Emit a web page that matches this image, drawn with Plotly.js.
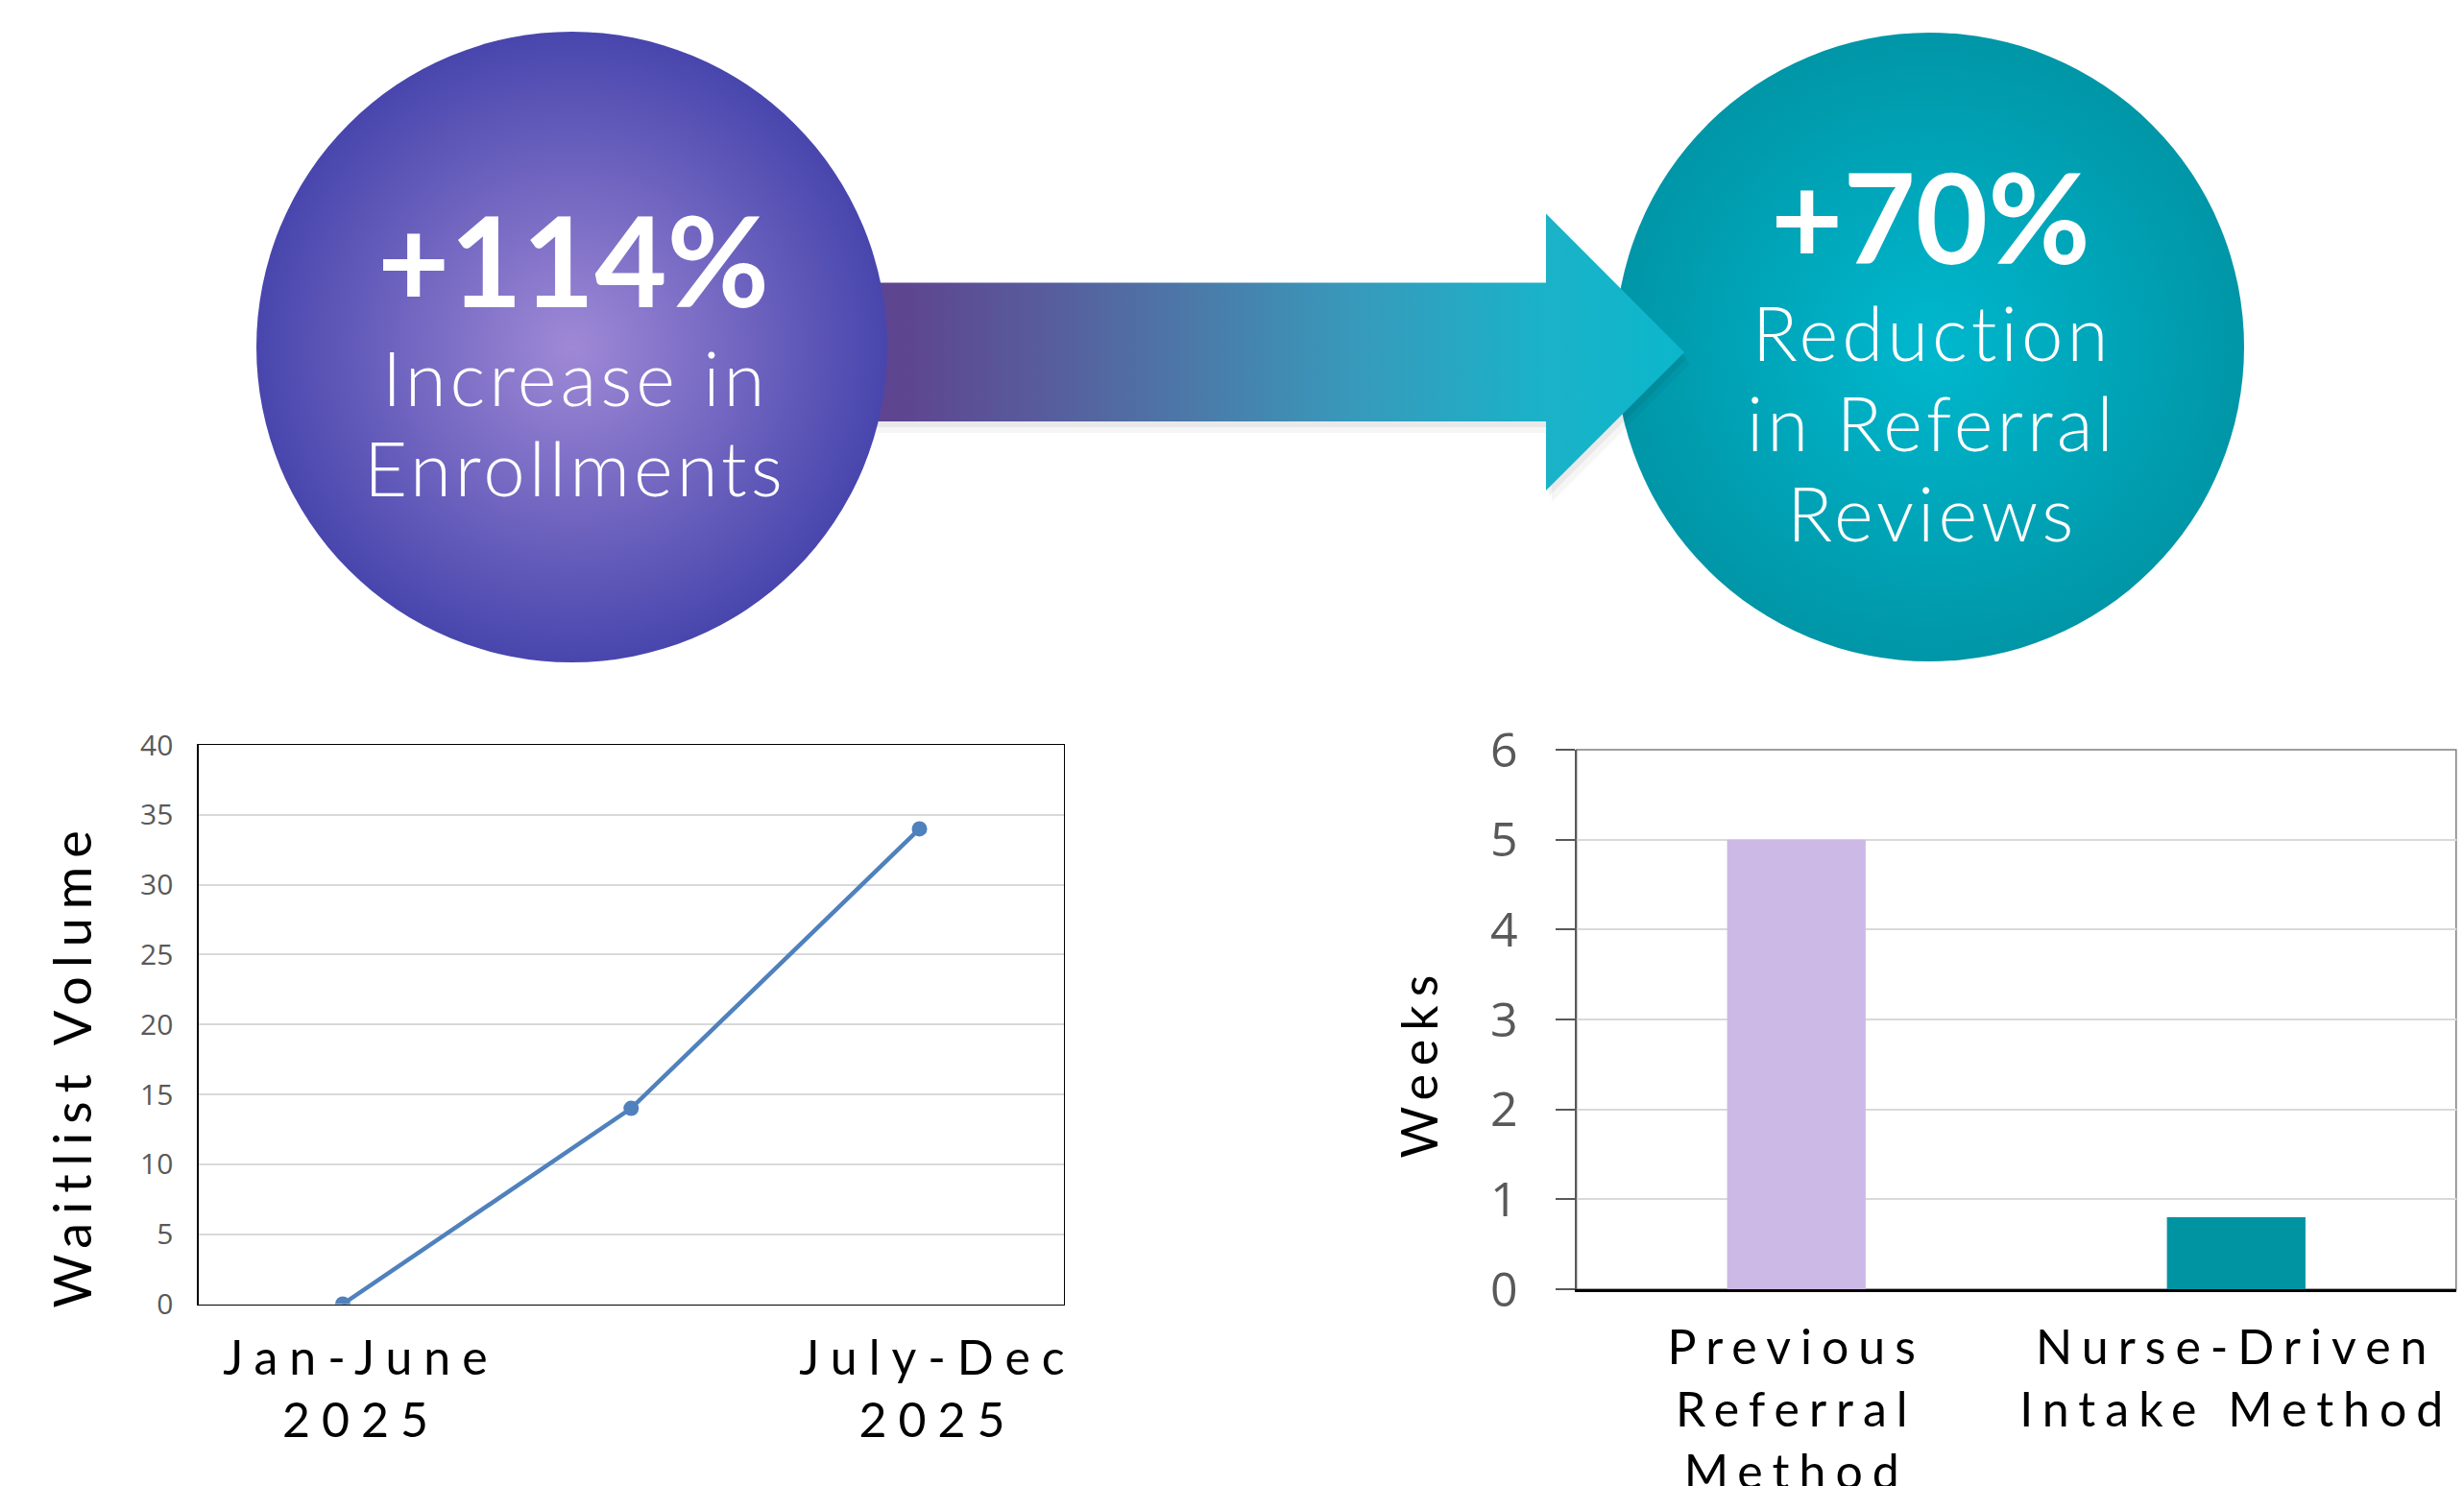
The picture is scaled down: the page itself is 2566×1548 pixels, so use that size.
<!DOCTYPE html>
<html>
<head>
<meta charset="utf-8">
<script src="https://cdn.plot.ly/plotly-3.0.1.min.js"></script>
<style>
  html, body { margin: 0; padding: 0; background: #ffffff; }
  #chart { width: 2566px; height: 1548px; }
  g.xtick text { letter-spacing: 12px; translate: 19px 0; }
  g.x2tick text { letter-spacing: 10px; }
  g.annotation[data-index="0"] text, g.annotation[data-index="1"] text { letter-spacing: 9px; }
  g.annotation[data-index="4"] text, g.annotation[data-index="5"] text, g.annotation[data-index="6"] text,
  g.annotation[data-index="7"] text, g.annotation[data-index="8"] text { letter-spacing: 4px; }
</style>
</head>
<body>
<div id="chart"></div>
<script>
// ---------- Data ----------
// Waitlist volume line chart
const waitlistPeriods = ['Jan-June<br>2025', '', 'July-Dec<br>2025'];
const waitlistIndex = [0, 1, 2];
const waitlistVolume = [0, 14, 34];

// Referral review time bar chart
const methodLabels = ['Previous<br>Referral<br>Method', 'Nurse-Driven<br>Intake Method'];
const weeksToReview = [5, 0.8];

// Headline statistics
const statValues = ['+114%', '+70%'];
const statCaptions = ['Increase in<br>Enrollments', 'Reduction<br>in Referral<br>Reviews'];

// Axis titles
const lineYTitle = 'Waitlist Volume';
const barYTitle = 'Weeks';

// ---------- Styling / geometry (pixel space of the infographic overlay) ----------
const W = 2566, H = 1548, TOP_H = 774;
const geom = {
  circle1: { cx: 595.5, cy: 361.5, d: 657 },
  circle2: { cx: 2009.5, cy: 361.5, d: 655 },
  body: { x0: 880, x1: 1612, y0: 294.5, y1: 439 },
  head: { x0: 1610, tip: 1754, y0: 222.5, y1: 511, yc: 367 },
  stat1: { x: 597, y: 270, lines: [393, 487] },
  stat2: { x: 2010, y: 225, lines: [346, 440, 534] }
};
const barColors = ['#CCB9E5', '#0094A3'];
const lineColor = '#4F81BD';
const tickGrey = '#595959';

const px = v => v / W;
const py = v => 1 - v / H;

const labelled = waitlistIndex.filter((_, i) => waitlistPeriods[i] !== '');
const labelledText = waitlistPeriods.filter(t => t !== '');

const b = geom.body, h = geom.head;
function arrowOutline(dx, dy) {
  return {
    x: [b.x0, h.x0, h.x0, h.tip, h.x0, h.x0, b.x0, b.x0].map(v => v + dx),
    y: [b.y0, b.y0, h.y0, h.yc, h.y1, b.y1, b.y1, b.y0].map(v => v + dy)
  };
}
const sh1 = arrowOutline(3, 6), sh2 = arrowOutline(6, 12);

const traces = [
  // Waitlist line
  {
    type: 'scatter', mode: 'lines+markers', xaxis: 'x', yaxis: 'y',
    x: waitlistIndex, y: waitlistVolume,
    line: { color: lineColor, width: 4.5 },
    marker: { color: lineColor, size: 16 },
    hoverinfo: 'skip', showlegend: false
  },
  // Weeks bars
  {
    type: 'bar', xaxis: 'x2', yaxis: 'y2',
    x: methodLabels, y: weeksToReview,
    width: 0.315,
    marker: { color: barColors, line: { width: 0 } },
    hoverinfo: 'skip', showlegend: false
  },
  // Right circle (teal): marker colour = rim, gradient colour = centre
  {
    type: 'scatter', mode: 'markers', xaxis: 'x3', yaxis: 'y3',
    x: [geom.circle2.cx], y: [geom.circle2.cy],
    marker: { size: geom.circle2.d, color: '#0096A7', gradient: { type: 'radial', color: '#00B8CE' }, line: { width: 0 } },
    hoverinfo: 'skip', showlegend: false
  },
  // Arrow shadows
  {
    type: 'scatter', mode: 'none', xaxis: 'x3', yaxis: 'y3', x: sh2.x, y: sh2.y,
    fill: 'toself', fillcolor: 'rgba(0,0,0,0.035)', hoverinfo: 'skip', showlegend: false
  },
  {
    type: 'scatter', mode: 'none', xaxis: 'x3', yaxis: 'y3', x: sh1.x, y: sh1.y,
    fill: 'toself', fillcolor: 'rgba(0,0,0,0.05)', hoverinfo: 'skip', showlegend: false
  },
  // Arrow body (gradient)
  {
    type: 'scatter', mode: 'none', xaxis: 'x3', yaxis: 'y3',
    x: [b.x0, b.x1, b.x1, b.x0, b.x0], y: [b.y0, b.y0, b.y1, b.y1, b.y0],
    fill: 'toself',
    fillgradient: {
      type: 'horizontal',
      colorscale: [[0, '#5E4391'], [0.08, '#5E4590'], [0.3, '#575E9E'], [0.5, '#4B7AA8'], [0.72, '#3899BB'], [1, '#19B3C9']]
    },
    hoverinfo: 'skip', showlegend: false
  },
  // Arrow head
  {
    type: 'scatter', mode: 'none', xaxis: 'x3', yaxis: 'y3',
    x: [h.x0, h.tip, h.x0, h.x0], y: [h.y0, h.yc, h.y1, h.y0],
    fill: 'toself',
    fillgradient: { type: 'horizontal', colorscale: [[0, '#1BB2C8'], [1, '#0BB7CC']] },
    hoverinfo: 'skip', showlegend: false
  },
  // Left circle (purple)
  {
    type: 'scatter', mode: 'markers', xaxis: 'x3', yaxis: 'y3',
    x: [geom.circle1.cx], y: [geom.circle1.cy],
    marker: { size: geom.circle1.d, color: '#4846AD', gradient: { type: 'radial', color: '#9F89D6' }, line: { width: 0 } },
    hoverinfo: 'skip', showlegend: false
  }
];

const annotations = [
  { text: lineYTitle, xref: 'paper', yref: 'paper', x: px(74), y: py(1110), xanchor: 'center', yanchor: 'middle',
    textangle: -90, showarrow: false, font: { family: 'Lato', size: 54, color: '#000000' } },
  { text: barYTitle, xref: 'paper', yref: 'paper', x: px(1477), y: py(1107), xanchor: 'center', yanchor: 'middle',
    textangle: -90, showarrow: false, font: { family: 'Lato', size: 52, color: '#000000' } },
  { text: '<b>' + statValues[0] + '</b>', xref: 'x3', yref: 'y3', x: geom.stat1.x, y: geom.stat1.y, xanchor: 'center', yanchor: 'middle',
    showarrow: false, font: { family: 'Lato', size: 130, color: '#ffffff' } },
  { text: '<b>' + statValues[1] + '</b>', xref: 'x3', yref: 'y3', x: geom.stat2.x, y: geom.stat2.y, xanchor: 'center', yanchor: 'middle',
    showarrow: false, font: { family: 'Lato', size: 130, color: '#ffffff' } }
];
[[statCaptions[0], geom.stat1], [statCaptions[1], geom.stat2]].forEach(([cap, g]) => {
  cap.split('<br>').forEach((line, i) => {
    annotations.push({ text: line, xref: 'x3', yref: 'y3', x: g.x + 2, y: g.lines[i], xanchor: 'center', yanchor: 'middle',
      showarrow: false, font: { family: 'Lato', size: 78, weight: 300, color: '#ffffff' } });
  });
});

const layout = {
  width: W, height: H,
  margin: { l: 0, r: 0, t: 0, b: 0, pad: 0 },
  paper_bgcolor: '#ffffff', plot_bgcolor: 'rgba(0,0,0,0)',
  showlegend: false,
  xaxis: {
    domain: [px(206.8), px(1107.7)], anchor: 'y',
    range: [-0.5, 2.5], tickmode: 'array', tickvals: labelled, ticktext: labelledText, tickangle: 0,
    showgrid: false, zeroline: false, showline: true, mirror: true, linecolor: '#000000', linewidth: 1.5,
    ticks: '', ticklabelstandoff: 12,
    tickfont: { family: 'Lato', size: 50, color: '#000000' }
  },
  yaxis: {
    domain: [1 - 1358.5 / H, 1 - 776 / H], anchor: 'x',
    range: [0, 40], dtick: 5, tick0: 0,
    showgrid: true, gridcolor: '#D9D9D9', gridwidth: 2, zeroline: false,
    showline: true, mirror: true, linecolor: '#000000', linewidth: 1.5,
    ticks: '', ticklabelstandoff: 19,
    tickfont: { family: 'Open Sans', size: 30, color: tickGrey }
  },
  xaxis2: {
    domain: [px(1641.7), px(2557.8)], anchor: 'y2',
    type: 'category', tickangle: 0,
    showgrid: false, zeroline: false, showline: true, linecolor: '#000000', linewidth: 3,
    ticks: '', ticklabelstandoff: 15,
    tickfont: { family: 'Lato', size: 50, color: '#000000' }
  },
  yaxis2: {
    domain: [1 - 1343 / H, 1 - 781 / H], anchor: 'x2',
    range: [0, 6], dtick: 1, tick0: 0,
    showgrid: true, gridcolor: '#D9D9D9', gridwidth: 2, zeroline: false,
    showline: true, linecolor: tickGrey, linewidth: 2,
    ticks: 'outside', ticklen: 20, tickwidth: 2, tickcolor: tickGrey, ticklabelstandoff: 29,
    tickfont: { family: 'Open Sans', size: 50, color: tickGrey }
  },
  xaxis3: { domain: [0, 1], anchor: 'y3', range: [0, W], visible: false, fixedrange: true },
  yaxis3: { domain: [1 - TOP_H / H, 1], anchor: 'x3', range: [TOP_H, 0], visible: false, fixedrange: true },
  shapes: [
    { type: 'rect', xref: 'x2 domain', yref: 'y2 domain', x0: 0, x1: 1, y0: 0, y1: 1,
      line: { color: '#7F7F7F', width: 1.5 }, fillcolor: 'rgba(0,0,0,0)', layer: 'below' }
  ],
  annotations: annotations
};

Plotly.newPlot('chart', traces, layout, { displayModeBar: false, staticPlot: true });
</script>
</body>
</html>
